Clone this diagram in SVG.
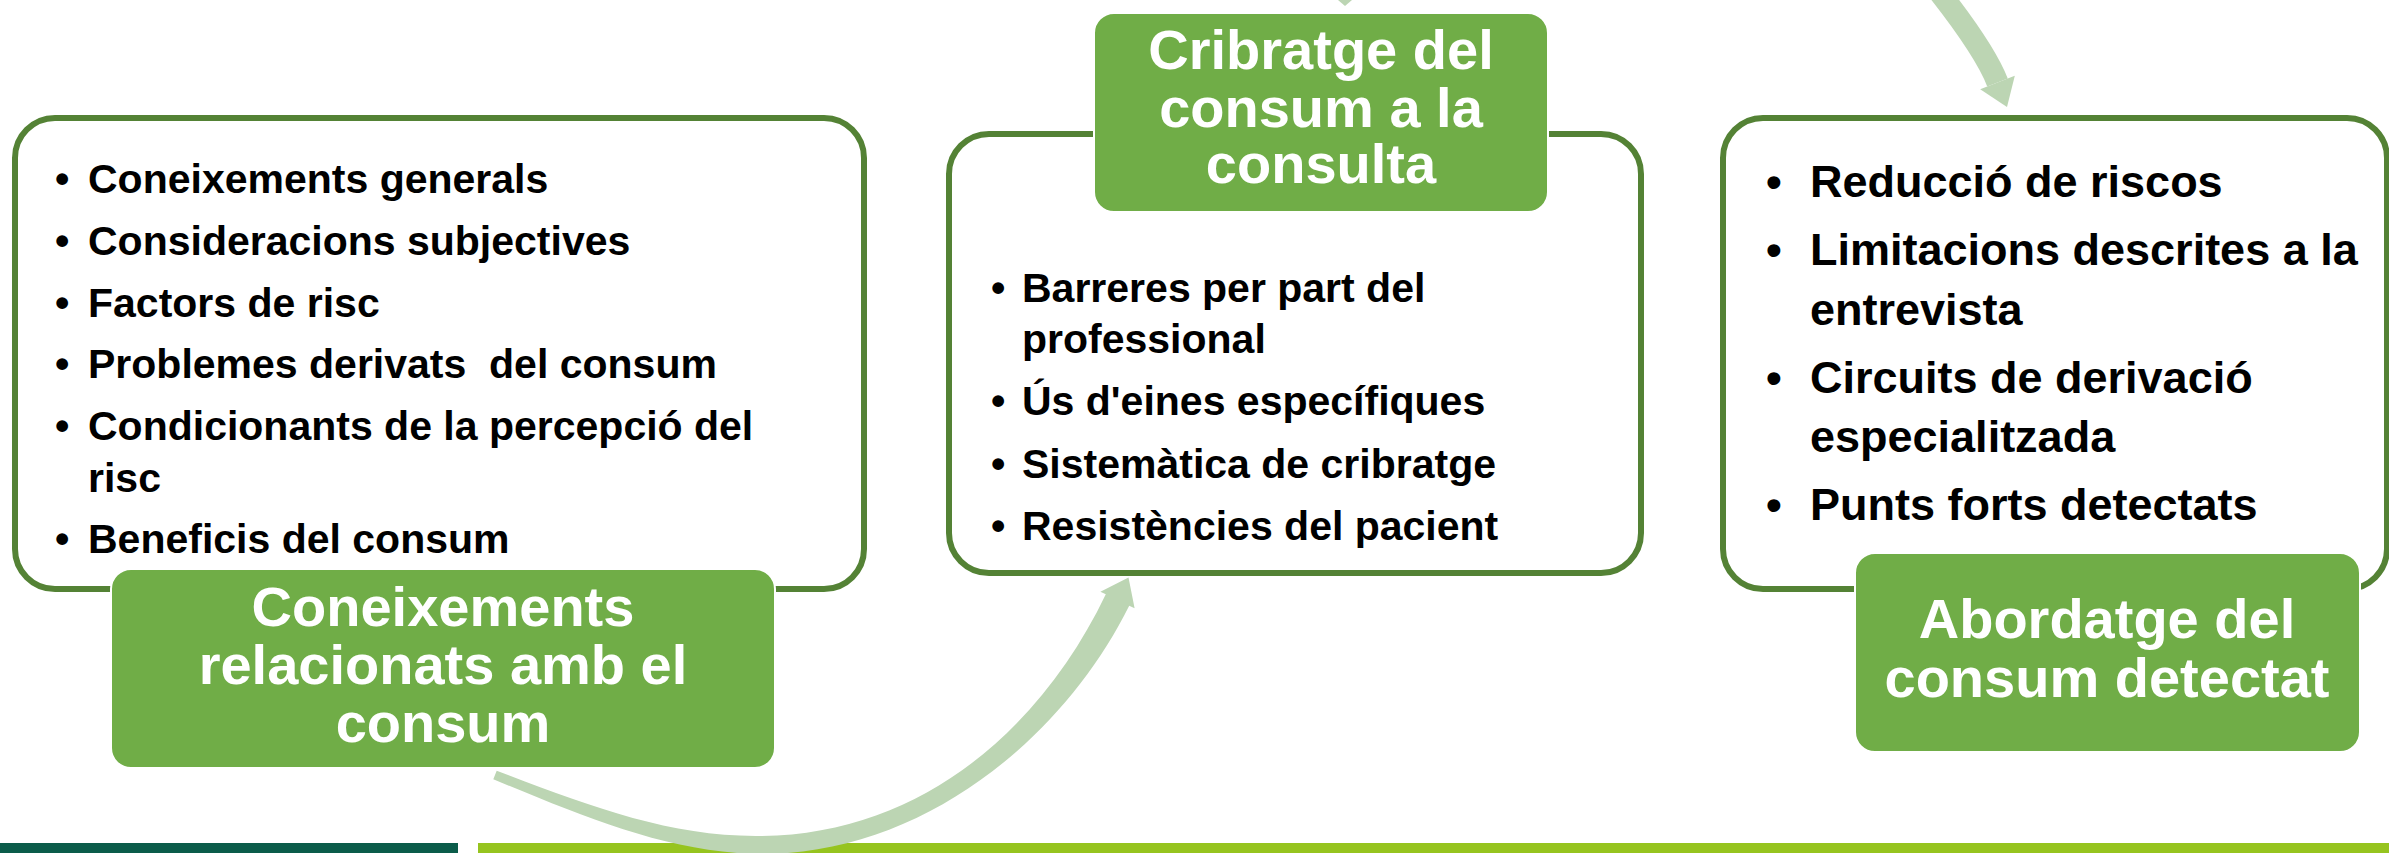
<svg xmlns="http://www.w3.org/2000/svg" width="2389" height="853" viewBox="0 0 2389 853">
<style>
.box{fill:#fff;stroke:#548235;stroke-width:6}
.lbl{fill:#70AD47;stroke:#fff;stroke-width:2}
.lt{font-family:"Liberation Sans",Arial,sans-serif;font-weight:bold;font-size:56px;fill:#fff;text-anchor:middle}
.bt{font-family:"Liberation Sans",Arial,sans-serif;font-weight:bold;fill:#000;white-space:pre}
.s41{font-size:41px}
.s45{font-size:45px}
.arr{fill:#BCD5B3}
</style>
<rect width="2389" height="853" fill="#fff"/>
<g id="footer">
<rect x="0" y="843" width="458" height="10" fill="#0B5C4A"/>
<rect x="478" y="843" width="1911" height="10" fill="#96C41F"/>
</g>
<g id="node-coneixements">
<rect class="box" x="15" y="118" width="849" height="471" rx="40" ry="40"/>
<g class="bt s41">
<text x="55" y="193">•</text><text x="88" y="193">Coneixements generals</text>
<text x="55" y="255">•</text><text x="88" y="255">Consideracions subjectives</text>
<text x="55" y="317">•</text><text x="88" y="317">Factors de risc</text>
<text x="55" y="378">•</text><text x="88" y="378" xml:space="preserve">Problemes derivats  del consum</text>
<text x="55" y="440">•</text><text x="88" y="440"><tspan x="88" y="440">Condicionants de la percepció del</tspan><tspan x="88" y="492">risc</tspan></text>
<text x="55" y="553">•</text><text x="88" y="553">Beneficis del consum</text>
</g>
<rect class="lbl" x="111" y="569" width="664" height="199" rx="20" ry="20"/>
<text class="lt"><tspan x="443" y="626">Coneixements</tspan><tspan x="443" y="684">relacionats amb el</tspan><tspan x="443" y="742">consum</tspan></text>
</g>
<g id="node-cribratge">
<rect class="box" x="949" y="134" width="692" height="439" rx="40" ry="40"/>
<g class="bt s41">
<text x="991" y="302">•</text><text><tspan x="1022" y="302">Barreres per part del</tspan><tspan x="1022" y="353">professional</tspan></text>
<text x="991" y="415">•</text><text x="1022" y="415">Ús d'eines específiques</text>
<text x="991" y="478">•</text><text x="1022" y="478">Sistemàtica de cribratge</text>
<text x="991" y="540">•</text><text x="1022" y="540">Resistències del pacient</text>
</g>
<rect class="lbl" x="1094" y="13" width="454" height="199" rx="20" ry="20"/>
<text class="lt"><tspan x="1321" y="69">Cribratge del</tspan><tspan x="1321" y="127">consum a la</tspan><tspan x="1321" y="183">consulta</tspan></text>
</g>
<g id="node-abordatge">
<rect class="box" x="1723" y="118" width="664" height="471" rx="40" ry="40"/>
<g class="bt s45">
<text x="1766" y="197">•</text><text x="1810" y="197">Reducció de riscos</text>
<text x="1766" y="265">•</text><text><tspan x="1810" y="265">Limitacions descrites a la</tspan><tspan x="1810" y="325">entrevista</tspan></text>
<text x="1766" y="393">•</text><text><tspan x="1810" y="393">Circuits de derivació</tspan><tspan x="1810" y="452">especialitzada</tspan></text>
<text x="1766" y="520">•</text><text x="1810" y="520">Punts forts detectats</text>
</g>
<rect class="lbl" x="1855" y="553" width="505" height="199" rx="20" ry="20"/>
<text class="lt"><tspan x="2107" y="638">Abordatge del</tspan><tspan x="2107" y="697">consum detectat</tspan></text>
</g>
<g id="connectors">
<path class="arr" d="M 493.3 779.2 C 585.8 817.6, 670 853, 760 854 C 920 855, 1062.6 740.2, 1129.2 605.7 L 1134.6 608.3 L 1128.5 577.5 L 1100.4 591.7 L 1105.8 594.3 C 1041 729.6, 920 835, 760 836 C 670 837, 590.2 806.4, 496.7 770.8 Z"/>
<path d="M 1936 -12 Q 1985 50 1997.5 82.5" fill="none" stroke="#BCD5B3" stroke-width="22"/>
<polygon class="arr" points="2014.8,75.8 2007,107 1980.2,89.2"/>
<polygon class="arr" points="1338,0 1352,0 1345,6"/>
</g>
</svg>
